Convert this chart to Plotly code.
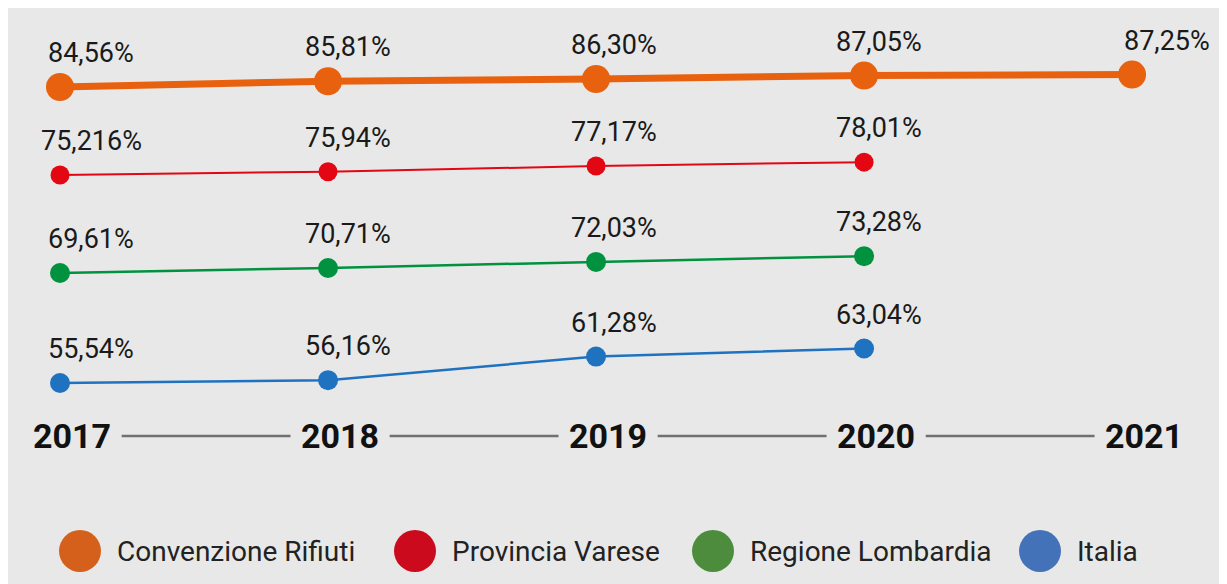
import plotly.graph_objects as go

# ---- data ----
years = [2017, 2018, 2019, 2020, 2021]
series_names = ["Convenzione Rifiuti", "Provincia Varese", "Regione Lombardia", "Italia"]
convenzione = [84.56, 85.81, 86.30, 87.05, 87.25]
provincia = [75.216, 75.94, 77.17, 78.01]
regione = [69.61, 70.71, 72.03, 73.28]
italia = [55.54, 56.16, 61.28, 63.04]

# ---- styles ----
line_colors = ["#E8610F", "#E30613", "#00923F", "#1F72BF"]
legend_colors = ["#D4601C", "#CC0A1E", "#4C8C3C", "#4472B8"]
line_widths = [7, 2, 2.5, 2.5]
marker_sizes = [28, 19, 20, 20]
# per-series vertical axis ranges (each line sits in its own band)
y_ranges = [(13.69, 101.73), (23.48, 111.52), (39.18, 127.22), (49.02, 137.06)]
label_xshift = [31, 20, 18, 15, 35]
W, H = 1227, 584
plot_bottom_px = 405
FONT = "Roboto"
BG = "#E8E8E8"


def fmt(v):
    s = f"{v:.2f}" if round(v, 2) == v else f"{v:.3f}"
    return s.replace(".", ",") + "%"


fig = go.Figure()
all_series = [convenzione, provincia, regione, italia]
annotations = []
for i, (name, vals) in enumerate(zip(series_names, all_series)):
    yref = "y" if i == 0 else f"y{i+1}"
    xs = years[: len(vals)]
    fig.add_trace(go.Scatter(
        x=xs, y=vals, name=name, mode="lines+markers",
        line=dict(color=line_colors[i], width=line_widths[i]),
        marker=dict(color=line_colors[i], size=marker_sizes[i]),
        yaxis=yref, showlegend=False, hoverinfo="skip",
    ))
    for j, (x, v) in enumerate(zip(xs, vals)):
        annotations.append(dict(
            x=x, y=v, xref="x", yref=yref, text=fmt(v), showarrow=False,
            xanchor="center", yanchor="middle", xshift=label_xshift[j], yshift=34,
            font=dict(family=FONT, size=27, color="#1a1a1a"),
        ))

dom_bottom = 1 - plot_bottom_px / H
layout_axes = {}
for i in range(4):
    key = "yaxis" if i == 0 else f"yaxis{i+1}"
    ax = dict(range=list(y_ranges[i]), domain=[dom_bottom, 1], visible=False,
              showgrid=False, zeroline=False, fixedrange=True)
    if i > 0:
        ax["overlaying"] = "y"
    layout_axes[key] = ax

shapes = []
# connectors between year labels
line_y = 1 - 428 / H
for y0 in years[:-1]:
    shapes.append(dict(type="line", xref="x", yref="paper",
                       x0=y0 + 0.23, x1=y0 + 0.86, y0=line_y, y1=line_y,
                       line=dict(color="#707070", width=2.5)))

# custom legend
legend_cx = [72, 407, 705, 1032]
legend_y = 1 - 543 / H
for i, name in enumerate(series_names):
    shapes.append(dict(type="circle", xref="paper", yref="paper",
                       xsizemode="pixel", ysizemode="pixel",
                       xanchor=legend_cx[i] / W, yanchor=legend_y,
                       x0=-21, x1=21, y0=-21, y1=21,
                       fillcolor=legend_colors[i], line=dict(width=0)))
    annotations.append(dict(x=(legend_cx[i] + 35) / W, y=legend_y, xref="paper", yref="paper",
                            text=name, showarrow=False, xanchor="left", yanchor="middle",
                            font=dict(family=FONT, size=28, color="#222222")))

fig.update_layout(
    width=W, height=H,
    margin=dict(l=0, r=0, t=0, b=0),
    paper_bgcolor=BG, plot_bgcolor=BG,
    xaxis=dict(range=[2016.806, 2021.384], domain=[0, 1],
               tickvals=years, ticktext=[str(y) for y in years],
               tickfont=dict(family=FONT, size=34, color="#111111", weight="bold"),
               ticks="", showgrid=False, zeroline=False, showline=False,
               ticklabelshift=12, ticklabelstandoff=0, fixedrange=True),
    shapes=shapes, annotations=annotations,
    **layout_axes,
)

fig.write_html("out.html")
